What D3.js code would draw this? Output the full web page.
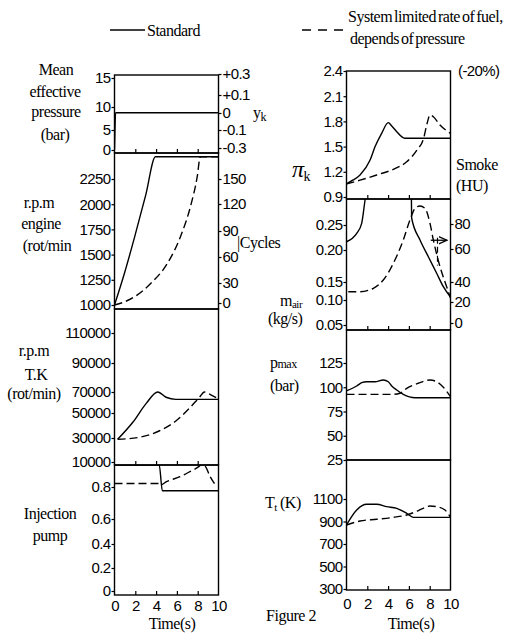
<!DOCTYPE html>
<html>
<head>
<meta charset="utf-8">
<script src="https://cdn.jsdelivr.net/npm/d3@7"></script>
<style>
  html, body { margin: 0; padding: 0; background: #fff; }
  svg { display: block; }
  .tick text { font-family: "Liberation Sans", Arial, sans-serif; font-size: 15px; letter-spacing: -0.6px; fill: #000; }
  .tick line { stroke: #000; stroke-width: 1.2; }
  .lbl { font-family: "Liberation Serif", "Times New Roman", serif; font-size: 16px; letter-spacing: -0.5px; fill: #000; }
  .sans { font-family: "Liberation Sans", Arial, sans-serif; font-size: 15px; letter-spacing: -0.6px; fill: #000; }
</style>
</head>
<body>
<svg id="chart" width="524" height="633"></svg>
<script>
// time axis (s)
const timeTicks = [0, 2, 4, 6, 8, 10];
const innerTimeTicks = [2, 4, 6, 8];

// mean effective pressure (bar) + y_k
const mepTicks = [0, 5, 10, 15];
const ykTicks = [-0.3, -0.1, 0, 0.1, 0.3];
const ykLabels = ['-0.3', '-0.1', '0', '+0.1', '+0.3'];
const mepStdTime = [0, 0.04, 0.1, 10];
const mepStd = [0, 4.5, 8.76, 8.76];

// engine rpm + cycles
const rpmTicks = [1000, 1250, 1500, 1750, 2000, 2250];
const cycleTicks = [0, 30, 60, 90, 120, 150];
const rpmStdTime = [0, 1, 2, 3, 3.94, 10];
const rpmStd = [1000, 1330, 1700, 2090, 2470, 2470];
const rpmLimTime = [0, 0.8, 1.9, 3.5, 5.1, 6.35, 7.3, 7.95, 8.25, 10];
const rpmLim = [1000, 1025, 1080, 1215, 1415, 1680, 1975, 2270, 2470, 2470];

// turbocharger rpm
const tkTicks = [10000, 30000, 50000, 70000, 90000, 110000];
const tkStdTime = [0.3, 1.8, 3.05, 4.16, 4.96, 5.9, 10];
const tkStd = [28900, 43000, 59200, 70000, 65000, 63000, 63000];
const tkLimTime = [0.3, 2.4, 4.33, 5.93, 7.2, 8.17, 8.65, 9.45, 10];
const tkLim = [28900, 30600, 35800, 43800, 54500, 65000, 70000, 66200, 63500];

// injection pump
const pumpTicks = [0, 0.2, 0.4, 0.6, 0.8];
const pumpStdTime = [0, 4.3, 4.6, 10];
const pumpStd = [1, 1, 0.777, 0.777];
const pumpLimTime = [0, 4.3, 4.45, 5.0, 6.3, 7.25, 8.1, 8.3, 8.7, 9.2, 9.7];
const pumpLim = [0.832, 0.832, 0.82, 0.848, 0.894, 0.94, 0.985, 1, 0.99, 0.894, 0.818];

// compressor pressure ratio pi_k
const piTicks = [0.9, 1.2, 1.5, 1.8, 2.1, 2.4];
const piStdTime = [0, 0.6, 1.3, 2.27, 2.75, 3.38, 4.02, 4.35, 4.83, 5.3, 5.6, 10];
const piStd = [1.055, 1.10, 1.162, 1.34, 1.50, 1.658, 1.785, 1.745, 1.677, 1.618, 1.60, 1.60];
const piLimTime = [0, 1.3, 2.9, 4.5, 5.79, 6.78, 7.42, 7.75, 8.03, 8.35, 8.99, 10];
const piLim = [1.055, 1.10, 1.162, 1.23, 1.32, 1.46, 1.60, 1.777, 1.876, 1.856, 1.757, 1.658];

// air mass flow (kg/s) + smoke (HU)
const airTicks = [0.05, 0.10, 0.15, 0.20, 0.25];
const smokeTicks = [0, 20, 40, 60, 80];
const smokeStdTime = [0, 0.98, 1.46, 1.78, 2.3, 6.2, 6.27, 7.07, 7.87, 8.67, 9.31, 10];
const smokeStd = [65.8, 72.5, 80.5, 99, 125, 125, 84.6, 67.2, 55.3, 45.3, 35.3, 25];
const smokeLimTime = [0.17, 1.3, 2.58, 3.54, 4.5, 5.46, 6.1, 6.59, 7.07, 7.55, 8.03, 8.35, 8.99, 9.63, 10];
const smokeLim = [30.3, 30.3, 33.7, 41.2, 51.3, 67.2, 83.2, 92.5, 94.4, 92.5, 80.5, 67.2, 49.3, 35.3, 24];

// max cylinder pressure (bar)
const pmaxTicks = [25, 50, 75, 100, 125];
const pmaxStdTime = [0, 0.98, 1.46, 1.94, 2.74, 3.54, 4.02, 4.35, 4.83, 5.46, 6.59, 10];
const pmaxStd = [96.4, 101.3, 104.7, 105.7, 105.7, 107.5, 105.7, 101.3, 97.2, 92.7, 89.2, 89.2];
const pmaxLimTime = [0, 4.47, 5.14, 5.79, 6.9, 8.03, 8.67, 9.31, 10];
const pmaxLim = [92.7, 92.7, 93.8, 98.9, 104.1, 107.5, 105.7, 100, 90.3];

// turbine inlet temperature (K)
const ttTicks = [300, 500, 700, 900, 1100];
const ttStdTime = [0, 0.98, 1.94, 2.9, 3.87, 4.83, 5.79, 6.42, 10];
const ttStd = [869, 1002, 1053, 1053, 1032, 1017, 973, 937, 937];
const ttLimTime = [0, 1.3, 2.9, 4.5, 5.79, 6.42, 7.38, 8.03, 8.67, 9.47, 10];
const ttLim = [869, 904, 920, 937, 958, 978, 1017, 1038, 1032, 1002, 937];

const svg = d3.select('#chart');

const xL = d3.scaleLinear().domain([0, 10]).range([114.5, 218.5]);
const xR = d3.scaleLinear().domain([0, 10]).range([346.5, 450.5]);

const panels = [
  { x: xL, top: 75, bottom: 153, innerTicks: true,
    y: d3.scaleLinear().domain([0, 5, 10, 15]).range([150, 130, 107, 78]), ticks: mepTicks,
    y2: d3.scaleLinear().domain([-0.3, -0.1, 0, 0.1, 0.3]).range([148, 130, 113, 95, 74]), ticks2: ykTicks,
    fmt2: (d, i) => ykLabels[i],
    series: [{ t: mepStdTime, v: mepStd }] },
  { x: xL, top: 153, bottom: 309,
    y: d3.scaleLinear().domain([1000, 2250]).range([305, 179]), ticks: rpmTicks,
    y2: d3.scaleLinear().domain([0, 30, 60, 90, 120, 150]).range([303, 283, 257, 231, 204, 179]), ticks2: cycleTicks,
    series: [{ t: rpmStdTime, v: rpmStd }, { t: rpmLimTime, v: rpmLim, dash: true }] },
  { x: xL, top: 309, bottom: 465, innerTicks: true,
    y: d3.scaleLinear().domain([10000, 30000, 50000, 70000, 90000, 110000]).range([462, 438, 413, 392, 363, 333]), ticks: tkTicks,
    series: [{ t: tkStdTime, v: tkStd }, { t: tkLimTime, v: tkLim, dash: true }] },
  { x: xL, top: 465, bottom: 595, innerTicks: true, timeLabels: 5,
    y: d3.scaleLinear().domain([0, 0.2, 0.4, 0.6, 0.8, 1]).range([591, 568, 544, 519, 487, 465]), ticks: pumpTicks,
    fmt: d => d === 0 ? '0' : d3.format('.1f')(d),
    series: [{ t: pumpStdTime, v: pumpStd }, { t: pumpLimTime, v: pumpLim, dash: true }] },
  { x: xR, top: 71, bottom: 199, innerTicks: true,
    y: d3.scaleLinear().domain([0.9, 2.4]).range([197, 71]), ticks: piTicks, fmt: d3.format('.1f'),
    series: [{ t: piStdTime, v: piStd }, { t: piLimTime, v: piLim, dash: true }] },
  { x: xR, top: 199, bottom: 330, innerTicks: true,
    y: d3.scaleLinear().domain([0.05, 0.10, 0.15, 0.20, 0.25]).range([325, 300, 282, 250, 225]), ticks: airTicks, fmt: d3.format('.2f'),
    y2: d3.scaleLinear().domain([0, 20, 40, 60, 80]).range([323, 302, 282, 249, 224]), ticks2: smokeTicks,
    series: [{ t: smokeStdTime, v: smokeStd, right: true }, { t: smokeLimTime, v: smokeLim, dash: true, right: true }] },
  { x: xR, top: 330, bottom: 460,
    y: d3.scaleLinear().domain([25, 125]).range([460, 363]), ticks: pmaxTicks,
    series: [{ t: pmaxStdTime, v: pmaxStd }, { t: pmaxLimTime, v: pmaxLim, dash: true }] },
  { x: xR, top: 460, bottom: 590, innerTicks: true, timeLabels: 8,
    y: d3.scaleLinear().domain([300, 1100]).range([589, 499]), ticks: ttTicks,
    series: [{ t: ttStdTime, v: ttStd }, { t: ttLimTime, v: ttLim, dash: true }] }
];

const defs = svg.append('defs');

panels.forEach((p, k) => {
  const [x0, x1] = p.x.range();
  defs.append('clipPath').attr('id', 'clip' + k)
    .append('rect').attr('x', x0).attr('y', p.top).attr('width', x1 - x0).attr('height', p.bottom - p.top);

  const g = svg.append('g');

  // data lines
  p.series.forEach(s => {
    const ys = s.right ? p.y2 : p.y;
    const line = d3.line()
      .x((d, i) => p.x(s.t[i]))
      .y(d => ys(d))
      .curve(d3.curveMonotoneX);
    g.append('path')
      .datum(s.v)
      .attr('clip-path', `url(#clip${k})`)
      .attr('fill', 'none')
      .attr('stroke', '#000')
      .attr('stroke-width', 1.4)
      .attr('stroke-dasharray', s.dash ? '8,4' : null)
      .attr('d', line);
  });

  // frame
  g.append('rect')
    .attr('x', x0).attr('y', p.top)
    .attr('width', x1 - x0).attr('height', p.bottom - p.top)
    .attr('fill', 'none').attr('stroke', '#000').attr('stroke-width', 1.4);

  // left axis
  const ax = g.append('g').attr('transform', `translate(${x0},0)`)
    .call(d3.axisLeft(p.y).tickValues(p.ticks).tickSize(3).tickPadding(1)
      .tickFormat(p.fmt || (d => d)));
  ax.select('.domain').remove();

  // right axis
  if (p.y2) {
    const ax2 = g.append('g').attr('transform', `translate(${x1},0)`)
      .call(d3.axisRight(p.y2).tickValues(p.ticks2).tickSize(3).tickPadding(1)
        .tickFormat(p.fmt2 || (d => d)));
    ax2.select('.domain').remove();
  }

  // inner time ticks on the lower edge
  if (p.innerTicks) {
    const bt = g.append('g').attr('transform', `translate(0,${p.bottom})`)
      .call(d3.axisBottom(p.x).tickValues(innerTimeTicks).tickSize(-4).tickFormat(''));
    bt.select('.domain').remove();
  }

  if (p.timeLabels) {
    const tl = g.append('g').attr('transform', `translate(0,${p.bottom})`)
      .call(d3.axisBottom(p.x).tickValues(timeTicks).tickSize(0).tickPadding(p.timeLabels));
    tl.select('.domain').remove();
  }
});

// arrow marking the smoke curve on the right-hand scale
const smokeScale = panels[5].y2;
svg.append('defs').append('marker')
  .attr('id', 'arrow').attr('viewBox', '0 0 10 10').attr('refX', 9).attr('refY', 5)
  .attr('markerWidth', 7).attr('markerHeight', 7).attr('orient', 'auto')
  .append('path').attr('d', 'M0,1 L9,5 L0,9').attr('fill', 'none').attr('stroke', '#000').attr('stroke-width', 1.4);
svg.append('line')
  .attr('x1', xR(8.1)).attr('x2', xR(9.65))
  .attr('y1', smokeScale(67)).attr('y2', smokeScale(67))
  .attr('stroke', '#000').attr('stroke-width', 1.3).attr('marker-end', 'url(#arrow)');
svg.append('line')
  .attr('x1', xR(8.75)).attr('x2', xR(8.75))
  .attr('y1', smokeScale(69)).attr('y2', smokeScale(50))
  .attr('stroke', '#000').attr('stroke-width', 1.2).attr('stroke-dasharray', '6,3');

// legend
svg.append('line').attr('x1', 110).attr('x2', 145).attr('y1', 30).attr('y2', 30)
  .attr('stroke', '#000').attr('stroke-width', 1.4);
svg.append('line').attr('x1', 302).attr('x2', 343).attr('y1', 30).attr('y2', 30)
  .attr('stroke', '#000').attr('stroke-width', 1.4).attr('stroke-dasharray', '9,7');

const labels = [
  { x: 147, y: 36, t: 'Standard', a: 'start' },
  { x: 348, y: 22, t: 'System limited rate of fuel,', a: 'start', ws: -1.5 },
  { x: 350, y: 44, t: 'depends of pressure', a: 'start', ws: -1.5 },
  { x: 56, y: 75, t: 'Mean', a: 'middle' },
  { x: 55, y: 97, t: 'effective', a: 'middle' },
  { x: 56, y: 117, t: 'pressure', a: 'middle' },
  { x: 55, y: 140, t: '(bar)', a: 'middle' },
  { x: 39, y: 208, t: 'r.p.m', a: 'middle' },
  { x: 41, y: 229, t: 'engine', a: 'middle' },
  { x: 47, y: 251, t: '(rot/min', a: 'middle' },
  { x: 34, y: 356, t: 'r.p.m', a: 'middle' },
  { x: 36, y: 380, t: 'T.K', a: 'middle' },
  { x: 34, y: 399, t: '(rot/min)', a: 'middle' },
  { x: 50, y: 519, t: 'Injection', a: 'middle' },
  { x: 50, y: 541, t: 'pump', a: 'middle' },
  { x: 172, y: 629, t: 'Time(s)', a: 'middle' },
  { x: 411, y: 629, t: 'Time(s)', a: 'middle' },
  { x: 291, y: 621, t: 'Figure 2', a: 'middle' },
  { x: 237, y: 248, t: '|Cycles', a: 'start' },
  { x: 456, y: 170, t: 'Smoke', a: 'start' },
  { x: 456, y: 191, t: '(HU)', a: 'start' },
  { x: 268, y: 324, t: '(kg/s)', a: 'start' },
  { x: 270, y: 391, t: '(bar)', a: 'start' },
];
labels.forEach(l => {
  svg.append('text').attr('class', 'lbl')
    .attr('x', l.x).attr('y', l.y)
    .attr('text-anchor', l.a)
    .style('word-spacing', l.ws ? l.ws + 'px' : null)
    .text(l.t);
});

// labels with subscripts
function subLabel(x, y, main, sub, size, subSize, dy, italic) {
  const t = svg.append('text').attr('class', 'lbl').attr('x', x).attr('y', y);
  t.append('tspan').text(main).style('font-size', size + 'px').style('font-style', italic ? 'italic' : null);
  t.append('tspan').text(sub).style('font-size', subSize + 'px').attr('dy', dy);
}
subLabel(253, 118, 'y', 'k', 16, 12, 3);
subLabel(292, 177, 'π', 'k', 24, 14, 4, true);
subLabel(280, 306, 'm', 'air', 16, 11, 2);
subLabel(270, 368, 'p', 'max', 16, 12, 0);
subLabel(265, 508, 'T', 't', 16, 11, 3);
svg.append('text').attr('class', 'lbl').attr('x', 280).attr('y', 508).text('(K)');

svg.append('text').attr('class', 'sans').attr('x', 458).attr('y', 76).text('(-20%)');
</script>
</body>
</html>
